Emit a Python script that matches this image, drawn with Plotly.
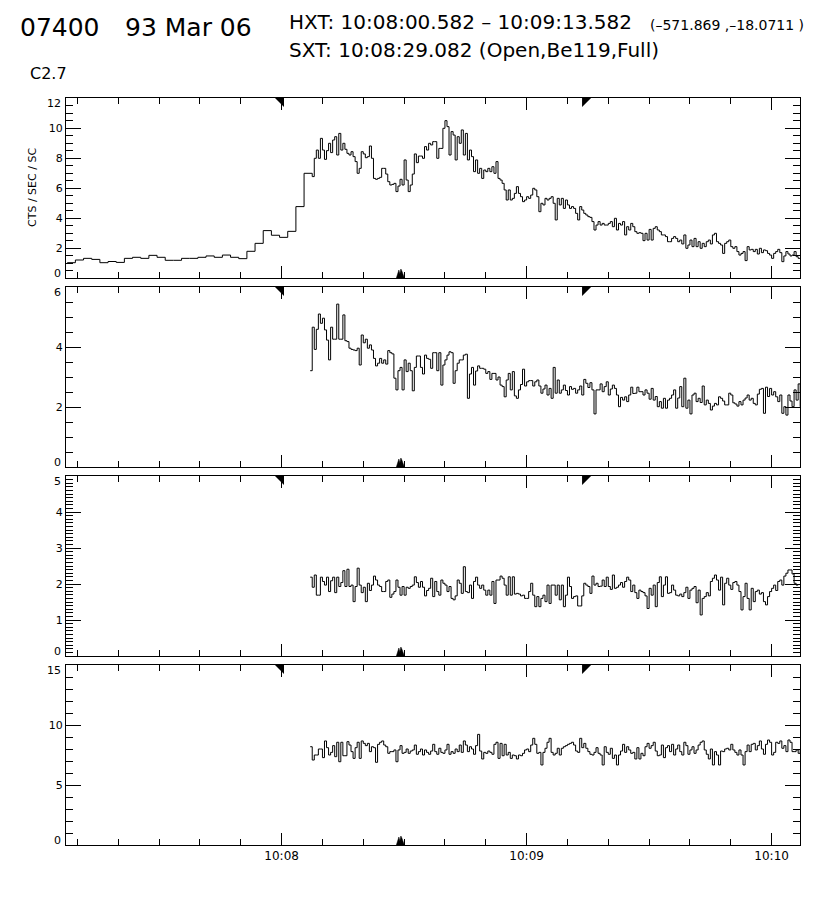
import numpy as np
import plotly.graph_objects as go

# ---------------- time settings (seconds relative to 10:08:00 UT) ----------------
coarse_start = -52.5      # first 2-s bin of channel 1
coarse_dt = 2.0
fine_dt = 0.5
ch1_fine_start = 7.5
ch234_start = 7.0

hxt_start = 0.582          # 10:08:00.582
hxt_end = 73.582           # 10:09:13.582
sxt_time = 29.082          # 10:08:29.082

x_range = [-52.8, 126.95]
x_tick_vals = [0, 60, 120]
x_tick_text = ["10:08", "10:09", "10:10"]

# ---------------- data (CTS / SEC / SC) ----------------
ch1_coarse = [1.02, 1.2, 1.31, 1.24, 1.02, 1.1, 1.04, 1.31, 1.38, 1.31,
              1.51, 1.38, 1.18, 1.18, 1.31, 1.31, 1.38, 1.47, 1.38, 1.53,
              1.38, 1.29, 1.78, 2.31, 3.16, 2.85, 2.71, 3.11, 4.76, 6.98]

ch1_fine = [6.76, 7.98, 8.53, 7.98, 9.31, 8.53, 7.91, 8.49, 8.98, 8.36,
            9.2, 9.42, 8.2, 9.64, 8.53, 8.98, 8.58, 8.31, 8.2, 8.42,
            8.09, 7.76, 6.98, 7.31, 8.42, 8.27, 8.02, 8.09, 8.8, 7.98,
            6.64, 6.58, 6.64, 6.71, 7.31, 7.31, 6.93, 6.42, 6.2, 6.24,
            6.31, 5.76, 6.13, 6.58, 6.2, 7.87, 6.53, 5.76, 6.2, 6.93,
            8.27, 7.69, 8.13, 8.13, 7.98, 8.76, 8.53, 8.98,
            8.87, 9.09, 9.09, 7.98, 8.64, 8.64, 9.98, 10.49, 10.09, 8.2,
            9.76, 9.53, 7.87, 9.42, 8.98, 9.87, 8.2, 9.64, 7.87, 8.53,
            8.09, 7.09, 7.87, 6.98, 7.31, 6.64, 7.2, 7.09, 7.31, 7.09,
            7.42, 6.98, 7.76, 6.64, 6.53, 6.31, 5.87, 5.2, 5.87, 5.2,
            5.31, 5.64, 6.09, 5.64, 5.42, 5.09, 5.2, 5.42, 5.31, 5.53,
            5.98, 5.87, 5.42, 4.42, 4.98, 4.87, 5.31, 5.2, 5.31, 5.42,
            4.98, 3.87, 5.31, 4.87, 5.31, 4.64, 5.2, 4.87, 4.64, 4.76,
            4.64, 4.31, 3.87, 4.76, 4.53, 4.31, 4.2, 4.09, 4.04, 3.76,
            3.2, 3.53, 3.76, 3.53, 3.64, 3.53, 3.53, 3.64, 3.76, 3.42,
            3.98, 3.2, 3.64, 3.53, 3.76, 2.87, 3.42, 3.2, 3.64, 3.42,
            3.09, 2.98, 3.02, 2.98, 2.49, 2.98, 2.53, 3.24, 2.53, 3.31,
            3.42, 3.2, 3.09, 2.87, 2.87, 2.76, 2.42, 2.42, 2.64, 2.76,
            2.64, 2.42, 2.53, 2.27, 2.87, 1.98, 2.2, 2.53, 2.09, 2.64,
            2.09, 2.42, 1.98, 2.31, 2.09, 2.42, 2.53, 2.27, 2.87, 2.98,
            2.42, 2.31, 2.2, 1.64, 2.31, 2.42, 2.53, 2.09, 1.98,
            2.09, 1.76, 1.53, 1.64, 1.76, 1.16, 2.09, 1.87, 1.91,
            1.76, 1.91, 1.6, 1.98, 1.69, 1.87, 1.82, 1.64, 1.53,
            1.31, 1.64, 1.76, 1.91, 1.69, 1.09, 1.47, 1.76, 1.6,
            1.47, 1.53, 1.76, 1.42, 1.31]

ch2 = [3.21, 4.66, 3.92, 4.59, 5.1, 4.79, 4.96, 4.57, 4.23, 3.57,
       4.66, 4.26, 4.26, 5.43, 4.26, 4.26, 5.07, 4.21, 4.18, 3.96,
       3.92, 3.9, 3.88, 3.96, 3.4, 4.4, 4.14, 4.26, 3.96, 4.07,
       3.9, 3.62, 3.37, 3.46, 3.62, 3.46, 3.57, 3.43, 3.88, 3.81,
       3.77, 2.96, 2.57, 3.21, 3.32, 2.57, 3.57, 3.18, 3.46, 3.21,
       2.54, 3.32, 3.7, 3.7, 3.32, 3.1, 3.73, 3.62, 3.59, 3.29, 3.81,
       3.81, 3.21, 3.81, 2.73, 3.4, 3.57, 3.73, 3.84, 3.81, 2.79,
       3.21, 3.46, 3.57, 3.57, 3.73, 3.76, 2.29, 3.1, 3.32, 2.73, 3.2,
       3.37, 3.29, 3.29, 3.26, 3.12, 3.18, 2.92, 3.12, 3.12, 2.9, 3.0,
       2.73, 2.68, 2.34, 2.9, 3.12, 2.57, 3.18, 2.37, 2.29, 2.57, 2.75,
       3.26, 2.7, 2.84, 2.88, 2.88, 2.7, 2.84, 2.9, 2.7, 2.46, 2.6,
       2.73, 2.4, 2.62, 2.29, 3.32, 2.46, 2.9, 2.46, 2.57, 2.73, 2.55,
       2.4, 2.68, 2.59, 2.62, 2.46, 2.57, 2.7, 2.4, 2.92, 2.79, 2.65,
       2.81, 2.57, 1.77, 2.57, 2.57, 2.77, 2.51, 2.68, 2.84, 2.4, 2.6,
       2.73, 2.62, 2.4, 2.01, 2.32, 2.23, 2.34, 2.18, 2.4, 2.66, 2.45,
       2.46, 2.66, 2.51, 2.51, 2.4, 2.57, 2.46, 2.26, 2.62, 2.23, 2.35,
       2.01, 2.18, 1.96, 2.29, 1.96, 2.23, 2.29, 2.4, 2.57, 1.96, 2.3,
       2.68, 2.01, 2.96, 1.96, 2.23, 1.77, 2.4, 2.46, 2.18, 2.29, 2.15,
       2.7, 2.07, 2.23, 2.12, 1.9, 2.03, 2.12, 2.07, 2.34, 2.29, 2.2,
       2.07, 2.07, 2.46, 2.4, 2.14, 2.1, 2.03, 2.18, 2.07, 2.23, 2.3,
       2.4, 2.23, 2.29, 2.12, 2.07, 2.43, 2.59, 2.62, 1.79, 2.66, 2.35,
       2.62, 2.4, 2.51, 2.34, 2.18, 2.4, 1.79, 2.01, 1.73, 2.4, 2.2,
       2.01, 2.57, 2.23, 2.77, 2.01, 2.1]

ch3 = [2.19, 1.91, 2.25, 1.69, 1.69, 2.19, 2.07, 1.97, 2.19, 1.79,
       2.09, 2.19, 1.76, 2.19, 1.93, 2.04, 2.37, 1.93, 2.41, 1.93,
       1.97, 1.51, 1.93, 2.44, 1.97, 1.76, 1.91, 1.51, 2.02, 1.82,
       1.97, 2.22, 2.11, 1.97, 1.93, 1.79, 1.79, 2.07, 2.11, 1.63,
       1.72, 1.79, 2.11, 1.91, 1.69, 1.93, 1.69, 1.91, 1.88, 1.93,
       1.97, 2.2, 2.04, 1.91, 2.07, 1.91, 1.67, 1.82, 1.88, 2.16, 1.65,
       2.07, 1.79, 1.69, 2.11, 2.02, 1.97, 1.79, 1.93, 1.6, 1.56,
       1.67, 2.11, 2.02, 1.74, 2.48, 1.79, 1.76, 1.97, 1.6, 2.07,
       2.19, 1.97, 1.88, 1.97, 1.83, 1.69, 1.83, 1.69, 2.07, 1.46,
       2.11, 2.11, 2.22, 2.16, 1.97, 1.69, 2.2, 1.69, 2.2, 1.72,
       1.74, 1.72, 1.67, 1.69, 1.6, 1.6, 1.79, 2.02, 1.69, 1.37,
       1.65, 1.37, 1.6, 1.69, 1.51, 1.97, 1.46, 1.97, 1.97, 1.69,
       1.97, 1.56, 1.97, 1.37, 1.69, 2.19, 1.93, 1.6, 1.65, 1.67,
       1.39, 1.39, 1.67, 2.02, 1.97, 1.93, 1.74, 2.22, 1.97, 2.02,
       1.93, 1.94, 2.11, 1.93, 2.19, 1.93, 1.85, 2.25, 1.88, 1.91,
       1.97, 2.04, 1.91, 2.07, 2.19, 2.11, 1.79, 1.97, 1.76, 1.6,
       1.83, 1.79, 1.76, 1.67, 1.32, 1.88, 1.69, 1.97, 1.37, 2.04,
       2.2, 1.65, 1.97, 2.2, 1.74, 1.76, 1.97, 1.83, 1.69, 1.67,
       1.72, 1.65, 1.76, 1.91, 1.6, 1.83, 1.88, 1.93, 1.48, 1.83,
       1.14, 1.6, 1.65, 1.76, 1.67, 2.07, 2.16, 2.25, 2.11, 1.83,
       2.19, 1.42, 2.02, 2.16, 1.97, 1.85, 2.04, 2.07, 1.97, 1.79,
       1.28, 1.65, 2.02, 1.6, 1.28, 1.88, 1.51, 1.79, 1.83, 1.72,
       1.76, 1.51, 1.42, 1.65, 1.79, 1.88, 1.97, 1.82, 2.07, 2.11,
       1.97, 2.22, 2.3, 2.39, 2.39, 2.28, 2.02, 1.97]

ch4 = [8.19, 7.08, 7.5, 7.5, 8.0, 8.0, 7.28, 8.67, 8.11, 7.5,
       7.72, 8.28, 7.36, 8.56, 6.94, 8.56, 7.44, 7.44, 8.61, 8.33,
       7.78, 7.22, 8.11, 8.56, 7.22, 8.67, 8.47, 8.28, 8.47, 7.78,
       8.19, 8.11, 6.89, 8.39, 8.56, 8.67, 8.33, 8.19, 7.64, 7.78,
       7.78, 7.92, 6.94, 7.92, 8.28, 7.64, 7.72, 8.0, 7.64, 7.83,
       7.92, 8.33, 7.56, 7.78, 8.0, 7.5, 7.92, 7.72, 7.56, 7.83, 8.39,
       7.78, 7.56, 8.06, 7.72, 7.64, 7.92, 8.39, 7.56, 7.78, 7.64,
       8.0, 7.78, 8.33, 7.72, 8.67, 8.33, 7.78, 8.19, 8.0, 7.56,
       8.28, 9.22, 7.83, 7.17, 7.72, 7.64, 7.83, 7.72, 7.56, 8.39,
       8.56, 7.22, 8.47, 7.44, 8.39, 7.5, 7.72, 7.22, 7.5, 7.44,
       7.17, 7.5, 7.44, 7.64, 7.92, 8.0, 7.78, 8.33, 8.89, 8.39,
       7.64, 7.72, 6.67, 7.72, 8.06, 8.56, 8.89, 7.72, 7.5, 7.64,
       8.06, 7.5, 8.06, 8.19, 8.28, 8.39, 8.47, 8.56, 8.33, 7.83,
       7.72, 8.89, 8.11, 8.47, 8.06, 7.78, 7.56, 7.5, 7.72, 8.11,
       7.64, 7.5, 6.67, 8.19, 7.72, 7.56, 8.06, 7.22, 7.5, 6.67,
       7.5, 7.83, 8.39, 7.72, 8.19, 7.92, 7.64, 7.72, 7.17,
       8.11, 7.17, 7.64, 7.44, 8.19, 8.47, 8.06, 8.28, 8.56, 7.83,
       7.44, 7.5, 8.33, 7.28, 8.11, 8.28, 7.78, 8.39, 7.5, 8.0,
       8.33, 7.78, 7.5, 8.56, 8.28, 7.56, 7.92, 8.19, 7.64, 7.92,
       8.33, 8.56, 8.67, 7.92, 7.56, 7.17, 8.0, 6.67, 7.78, 7.5,
       6.67, 7.83, 7.78, 8.0, 8.06, 7.92, 8.39, 7.92, 7.72,
       7.5, 7.92, 7.5, 6.67, 7.78, 8.33, 7.78, 8.39, 8.47,
       7.92, 8.28, 8.67, 8.0, 7.56, 8.39, 8.75, 8.56, 7.5, 7.72,
       8.56, 8.47, 8.67, 8.06, 8.28, 7.78, 8.75, 8.56, 7.78, 7.78,
       7.92, 7.64, 8.0, 7.22, 7.36]

y_ranges = [[0, 12], [0, 6], [0, 5], [0, 15]]
y_major = [2, 2, 1, 5]
y_minor = [0.5, 0.5, 0.1, 1]

# ---------------- figure geometry (pixels) ----------------
W, H = 816, 900
ML, MR, MT, MB = 66, 16, 98, 55
PANEL_H, GAP = 180, 9
plot_w = W - ML - MR
plot_h = H - MT - MB
px_per_s = plot_w / (x_range[1] - x_range[0])
END_LABEL_SHIFT = 5

FONT = "DejaVu Sans"


def step_xy(start, dt, vals):
    edges = start + dt * np.arange(len(vals) + 1)
    return edges, list(vals) + [vals[-1]]


def fmt(v):
    return str(int(v)) if float(v).is_integer() else str(v)


fig = go.Figure()

# channel 1: coarse + fine bins
x_c = coarse_start + coarse_dt * np.arange(len(ch1_coarse))
x_f = ch1_fine_start + fine_dt * np.arange(len(ch1_fine) + 1)
x1 = np.concatenate([x_c, x_f])
y1 = list(ch1_coarse) + list(ch1_fine) + [ch1_fine[-1]]
series = [(x1, y1)]
for vals in (ch2, ch3, ch4):
    series.append(step_xy(ch234_start, fine_dt, vals))

line_style = dict(color="black", width=1, shape="hv")

layout_axes = {}
end_labels = []
for i, (xs, ys) in enumerate(series):
    k = i + 1
    suffix = "" if k == 1 else str(k)
    fig.add_trace(go.Scatter(x=xs, y=ys, mode="lines", line=line_style,
                             xaxis="x" + suffix, yaxis="y" + suffix,
                             hoverinfo="skip", showlegend=False))
    top = 1 - i * (PANEL_H + GAP) / plot_h
    bot = top - PANEL_H / plot_h
    ymin, ymax = y_ranges[i]
    # HXT interval triangles at top
    tw = 9 / px_per_s
    th = 9 / PANEL_H * ymax
    fig.add_trace(go.Scatter(
        x=[hxt_start - tw, hxt_start, hxt_start, hxt_start - tw],
        y=[ymax, ymax, ymax - th, ymax],
        mode="lines", fill="toself", fillcolor="black", line=dict(width=0, color="black"),
        xaxis="x" + suffix, yaxis="y" + suffix, hoverinfo="skip", showlegend=False))
    fig.add_trace(go.Scatter(
        x=[hxt_end, hxt_end + tw, hxt_end, hxt_end],
        y=[ymax, ymax, ymax - th, ymax],
        mode="lines", fill="toself", fillcolor="black", line=dict(width=0, color="black"),
        xaxis="x" + suffix, yaxis="y" + suffix, hoverinfo="skip", showlegend=False))
    # SXT time marker at bottom
    offs = [(-4, 0), (-2.5, 5), (-1.5, 8), (-0.5, 4), (0.5, 9), (1.5, 7), (2.5, 3), (4, 0)]
    fig.add_trace(go.Scatter(
        x=[sxt_time + dx / px_per_s for dx, dy in offs],
        y=[dy / PANEL_H * ymax for dx, dy in offs],
        mode="lines", fill="toself", fillcolor="black", line=dict(width=0.5, color="black"),
        xaxis="x" + suffix, yaxis="y" + suffix, hoverinfo="skip", showlegend=False))

    majors = np.arange(ymin, ymax + 1e-9, y_major[i])
    texts = ["" if (v == ymin or v == ymax) else fmt(v) for v in majors]

    layout_axes["xaxis" + suffix] = dict(
        domain=[0, 1], anchor="y" + suffix, range=x_range,
        showline=True, linecolor="black", linewidth=1, mirror="allticks",
        ticks="inside", ticklen=12, tickwidth=1, tickcolor="black",
        tickmode="array", tickvals=x_tick_vals, ticktext=x_tick_text,
        showticklabels=(k == 4), tickfont=dict(family=FONT, size=12, color="black"),
        minor=dict(ticks="inside", ticklen=6, tickwidth=1, tickcolor="black",
                   tick0=0, dtick=10, showgrid=False),
        showgrid=False, zeroline=False, fixedrange=True)
    layout_axes["yaxis" + suffix] = dict(
        domain=[bot, top], anchor="x" + suffix, range=y_ranges[i],
        showline=True, linecolor="black", linewidth=1, mirror="allticks",
        ticks="inside", ticklen=15, tickwidth=1, tickcolor="black",
        tickmode="array", tickvals=list(majors), ticktext=texts,
        tickfont=dict(family=FONT, size=11, color="black"),
        minor=dict(ticks="inside", ticklen=7, tickwidth=1, tickcolor="black",
                   tick0=0, dtick=y_minor[i], showgrid=False),
        showgrid=False, zeroline=False, fixedrange=True)
    # end labels (0 and top value) nudged inward, as in the original plot
    for v, shift in ((ymin, END_LABEL_SHIFT), (ymax, -END_LABEL_SHIFT)):
        end_labels.append(dict(
            text=fmt(v), xref="x" + suffix + " domain", x=0, xanchor="right", xshift=-3,
            yref="y" + suffix, y=v, yanchor="middle", yshift=shift, showarrow=False,
            font=dict(family=FONT, size=11, color="black")))


def px_x(p):
    return (p - ML) / plot_w


def px_y(p):
    return (H - MB - p) / plot_h


annotations = [
    dict(text="07400", x=px_x(18), y=px_y(28), xanchor="left", yanchor="middle",
         font=dict(family=FONT, size=25)),
    dict(text="93 Mar 06", x=px_x(123), y=px_y(28), xanchor="left", yanchor="middle",
         font=dict(family=FONT, size=25)),
    dict(text="HXT: 10:08:00.582 – 10:09:13.582", x=px_x(287), y=px_y(22),
         xanchor="left", yanchor="middle", font=dict(family=FONT, size=20)),
    dict(text="(–571.869 ,–18.0711 )", x=px_x(806), y=px_y(25),
         xanchor="right", yanchor="middle", font=dict(family=FONT, size=14)),
    dict(text="SXT: 10:08:29.082 (Open,Be119,Full)", x=px_x(287), y=px_y(50),
         xanchor="left", yanchor="middle", font=dict(family=FONT, size=20)),
    dict(text="C2.7", x=px_x(28), y=px_y(73), xanchor="left", yanchor="middle",
         font=dict(family=FONT, size=16)),
    dict(text="CTS / SEC / SC", x=px_x(32), y=px_y(188), xanchor="center",
         yanchor="middle", textangle=-90, font=dict(family=FONT, size=11)),
]
for a in annotations:
    a.update(xref="paper", yref="paper", showarrow=False)
    a["font"]["color"] = "black"

fig.update_layout(
    width=W, height=H, margin=dict(l=ML, r=MR, t=MT, b=MB, pad=0),
    paper_bgcolor="white", plot_bgcolor="white", hovermode=False,
    annotations=annotations + end_labels, showlegend=False, **layout_axes)

fig.write_html("out.html",
               config={"displayModeBar": False, "staticPlot": True},
               post_script="document.body.style.margin='0';"
                           "document.body.style.overflow='hidden';")
